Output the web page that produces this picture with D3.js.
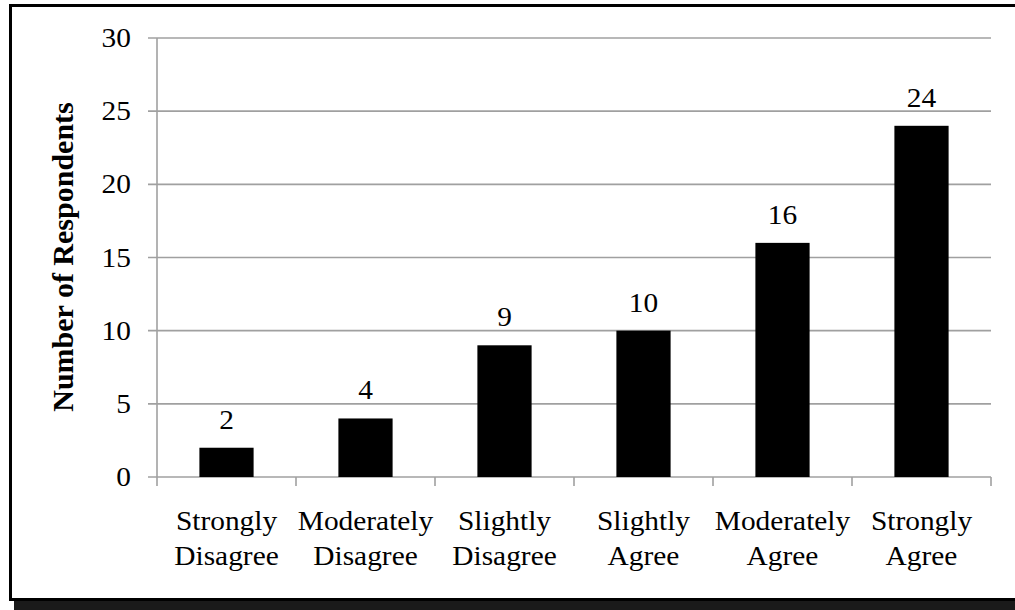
<!DOCTYPE html>
<html><head><meta charset="utf-8">
<script src="https://cdn.jsdelivr.net/npm/d3@7"></script>
<style>body{margin:0;background:#fff;}svg{display:block;}</style>
</head><body>
<svg id="c" width="1015" height="610"></svg>
<script>
const categories = [["Strongly","Disagree"],["Moderately","Disagree"],["Slightly","Disagree"],["Slightly","Agree"],["Moderately","Agree"],["Strongly","Agree"]];
const values = [2, 4, 9, 10, 16, 24];
const yTicks = [0, 5, 10, 15, 20, 25, 30];
const yTitle = "Number of Respondents";

(function(){
const svg = d3.select("#c");
const font = "Liberation Serif";
const fs = 28, sx = 1.05;
// frame with shadow
svg.append("rect").attr("x",14).attr("y",9).attr("width",1010).attr("height",601).attr("fill","#1a1a1a");
svg.append("rect").attr("x",10.5).attr("y",5.5).attr("width",1010).attr("height",594).attr("fill","#fff").attr("stroke","#000").attr("stroke-width",3);

const pLeft = 157, pRight = 991, pTop = 38, pBottom = 477;
const idx = categories.map((d,i)=>i);
const x = d3.scaleBand().domain(idx).range([pLeft,pRight]).paddingInner(0.61).paddingOuter(0.305);
const xOuter = d3.scaleBand().domain(idx).range([pLeft,pRight]);
const y = d3.scaleLinear().domain([0,30]).range([pBottom,pTop]);

// gridlines
svg.append("g").selectAll("line").data(yTicks).join("line")
  .attr("x1",148).attr("x2",pRight).attr("y1",d=>y(d)).attr("y2",d=>y(d))
  .attr("stroke","#a0a0a0").attr("stroke-width",1.6);
// y axis line
svg.append("line").attr("x1",pLeft).attr("x2",pLeft).attr("y1",pTop).attr("y2",pBottom)
  .attr("stroke","#a0a0a0").attr("stroke-width",1.6);
// y tick labels
svg.append("g").selectAll("text").data(yTicks).join("text")
  .attr("transform",d=>`translate(131,${y(d)+9}) scale(${sx},1)`).attr("text-anchor","end")
  .attr("font-family",font).attr("font-size",fs).attr("fill","#000").text(d=>d);
// x category tick marks
const bounds = idx.map(i=>xOuter(i)+xOuter.bandwidth()).concat([pLeft]);
svg.append("g").selectAll("line").data(bounds).join("line")
  .attr("x1",d=>d).attr("x2",d=>d).attr("y1",pBottom).attr("y2",pBottom+9)
  .attr("stroke","#a0a0a0").attr("stroke-width",1.6);

// bars
svg.append("g").selectAll("rect").data(values).join("rect")
  .attr("x",(d,i)=>x(i)).attr("width",x.bandwidth())
  .attr("y",d=>y(d)).attr("height",d=>pBottom-y(d)).attr("fill","#000");
// value labels
svg.append("g").selectAll("text").data(values).join("text")
  .attr("transform",(d,i)=>`translate(${x(i)+x.bandwidth()/2},${y(d)-19}) scale(${sx},1)`)
  .attr("text-anchor","middle").attr("font-family",font).attr("font-size",fs).text(d=>d);
// category labels
const cl = svg.append("g").selectAll("text").data(categories).join("text")
  .attr("transform",(d,i)=>`translate(${xOuter(i)+xOuter.bandwidth()/2},530) scale(${sx},1)`)
  .attr("text-anchor","middle").attr("font-family",font).attr("font-size",fs);
cl.each(function(d){
  const t = d3.select(this);
  d.forEach((line,j)=>{
    t.append("tspan").attr("x",0).attr("y",j*35).text(line);
  });
});
// y title
svg.append("text").attr("transform","translate(73,257) rotate(-90)")
  .attr("text-anchor","middle").attr("font-family",font).attr("font-size",30)
  .attr("font-weight","bold").text(yTitle);
})();
</script>
</body></html>
